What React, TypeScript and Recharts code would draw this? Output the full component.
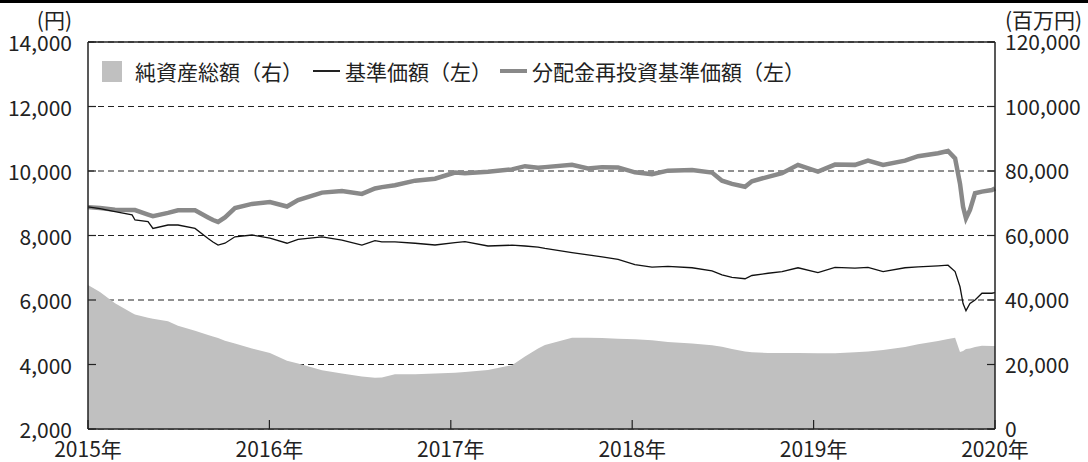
import {
  ComposedChart,
  Area,
  Line,
  XAxis,
  YAxis,
  CartesianGrid,
  ReferenceLine,
  Legend,
} from 'recharts'

const FONT = "'Noto Sans CJK JP', 'Noto Sans', sans-serif"
const INK = '#222'
const ASSET_GRAY = '#c0c0c0'
const REINVEST_GRAY = '#898989'

// decimal years
const dates = [
  2015.0, 2015.066, 2015.149, 2015.243, 2015.259, 2015.331, 2015.358, 2015.441, 2015.496, 2015.59,
  2015.662, 2015.689, 2015.717, 2015.755, 2015.81, 2015.904, 2016.003, 2016.097, 2016.158, 2016.29,
  2016.4, 2016.51, 2016.582, 2016.62, 2016.692, 2016.803, 2016.913, 2017.023, 2017.078, 2017.205,
  2017.337, 2017.409, 2017.481, 2017.519, 2017.668, 2017.756, 2017.834, 2017.922, 2018.015, 2018.109,
  2018.197, 2018.33, 2018.44, 2018.495, 2018.55, 2018.622, 2018.66, 2018.749, 2018.826, 2018.914,
  2019.024, 2019.118, 2019.228, 2019.3, 2019.383, 2019.504, 2019.576, 2019.686, 2019.741, 2019.78,
  2019.807, 2019.824, 2019.84, 2019.862, 2019.89, 2019.928, 2019.983, 2020.0,
]

// 基準価額（円）
const navValues = [
  8890, 8830, 8740, 8640, 8480, 8430, 8220, 8325, 8325, 8220,
  7910, 7800, 7705, 7760, 7960, 8015, 7920, 7760, 7880, 7960,
  7860, 7705, 7840, 7800, 7800, 7760, 7705, 7780, 7810, 7675,
  7700, 7675, 7640, 7600, 7470, 7400, 7340, 7260, 7100, 7020,
  7040, 7000, 6900, 6780, 6700, 6660, 6760, 6830, 6880, 7000,
  6850, 7010, 6990, 7010, 6880, 7000, 7030, 7060, 7080, 6880,
  6410, 5890, 5670, 5890, 6000, 6210, 6210, 6230,
]

// 分配金再投資基準価額（円）
const reinvestedValues = [
  8880, 8850, 8800, 8790, 8790, 8650, 8600, 8700, 8780, 8780,
  8560, 8480, 8420, 8560, 8850, 8980, 9040, 8900, 9100, 9330,
  9380, 9290, 9460, 9500, 9560, 9700, 9760, 9950, 9930, 9980,
  10050, 10150, 10100, 10120, 10190, 10080, 10120, 10110, 9960, 9900,
  10010, 10030, 9950, 9700, 9600, 9510, 9680, 9820, 9930, 10190,
  9980, 10200, 10190, 10320, 10190, 10320, 10460, 10550, 10620, 10390,
  9610, 8890, 8530, 8790, 9310, 9360, 9410, 9460,
]

// 純資産総額（百万円）
const netAssets = [
  44650, 42500, 39000, 36000, 35500, 34500, 34200, 33400, 32000, 30500,
  29140, 28700, 28200, 27400, 26500, 25000, 23600, 21200, 20300, 18200,
  17200, 16300, 15900, 16000, 16950, 16950, 17200, 17450, 17700, 18300,
  19800, 22500, 25000, 26040, 28300, 28300, 28200, 28000, 27800, 27500,
  27000, 26500, 26000, 25500, 24800, 24000, 23800, 23600, 23600, 23600,
  23500, 23500, 23800, 24000, 24500, 25400, 26300, 27300, 27900, 28300,
  23900, 24200, 24800, 25000, 25400, 25800, 25700, 25700,
]

const xTicks = [2015, 2016, 2017, 2018, 2019, 2020]
const leftTicks = [2000, 4000, 6000, 8000, 10000, 12000, 14000]
const rightTicks = [0, 20000, 40000, 60000, 80000, 100000, 120000]

const data = dates.map((t, i) => ({
  t,
  nav: navValues[i],
  reinvested: reinvestedValues[i],
  assets: netAssets[i],
}))

const fmt = (v: number) => v.toLocaleString('en-US')

function LeftTick({ x, y, payload }: any) {
  return (
    <g>
      <line x1={x + 16} x2={x + 24} y1={y} y2={y} stroke={INK} strokeWidth={1.2} />
      <text x={x} y={y + 9} textAnchor="end" fontSize={21} fontFamily={FONT} fill={INK}>
        {fmt(payload.value)}
      </text>
    </g>
  )
}

function RightTick({ x, y, payload }: any) {
  return (
    <g>
      <line x1={x - 10} x2={x - 18} y1={y} y2={y} stroke={INK} strokeWidth={1.2} />
      <text x={x} y={y + 8} textAnchor="start" fontSize={21} fontFamily={FONT} fill={INK}>
        {fmt(payload.value)}
      </text>
    </g>
  )
}

function BottomTick({ x, y, payload }: any) {
  return (
    <g>
      <line x1={x} x2={x} y1={y} y2={y - 9} stroke={INK} strokeWidth={1.2} />
      <text x={x} y={y + 28} textAnchor="middle" fontSize={21} fontFamily={FONT} fill={INK}>
        {payload.value}年
      </text>
    </g>
  )
}

function UnitLabel({ viewBox, text, side }: any) {
  const x = side === 'left' ? viewBox.x + viewBox.width - 16 : viewBox.x + 10
  return (
    <text
      x={x}
      y={viewBox.y - 14}
      textAnchor={side === 'left' ? 'end' : 'start'}
      fontSize={21}
      fontFamily={FONT}
      fill={INK}
    >
      {text}
    </text>
  )
}

function LegendBox() {
  const item = { display: 'flex', alignItems: 'center' } as const
  const label = { fontSize: 21, fontFamily: FONT, color: INK, whiteSpace: 'nowrap' } as const
  return (
    <div style={{ display: 'flex', alignItems: 'center', lineHeight: '24px' }}>
      <div style={item}>
        <span style={{ width: 20, height: 21, background: ASSET_GRAY, marginRight: 13 }} />
        <span style={label}>純資産総額（右）</span>
      </div>
      <div style={{ ...item, marginLeft: 10 }}>
        <span style={{ width: 27, height: 1.5, background: INK, marginRight: 5 }} />
        <span style={label}>基準価額（左）</span>
      </div>
      <div style={{ ...item, marginLeft: 8 }}>
        <span style={{ width: 27, height: 4.5, background: REINVEST_GRAY, marginRight: 5 }} />
        <span style={label}>分配金再投資基準価額（左）</span>
      </div>
    </div>
  )
}

export default function App() {
  return (
    <div style={{ position: 'absolute', left: 0, top: 0, width: 1088, height: 462, background: '#fff' }}>
      <div style={{ position: 'absolute', left: 0, top: 0, width: 1088, height: 3, background: '#000', zIndex: 2 }} />
      <ComposedChart
        width={1088}
        height={462}
        data={data}
        margin={{ top: 42, right: 0, bottom: 0, left: 0 }}
      >
        <CartesianGrid
          yAxisId="left"
          vertical={false}
          stroke={INK}
          strokeDasharray="6 4"
          strokeWidth={1}
        />
        <Area
          yAxisId="right"
          dataKey="assets"
          type="linear"
          stroke="none"
          fill={ASSET_GRAY}
          fillOpacity={1}
          isAnimationActive={false}
        />
        <Line
          yAxisId="left"
          dataKey="reinvested"
          type="linear"
          stroke={REINVEST_GRAY}
          strokeWidth={4.5}
          dot={false}
          isAnimationActive={false}
        />
        <Line
          yAxisId="left"
          dataKey="nav"
          type="linear"
          stroke="#111"
          strokeWidth={1.3}
          dot={false}
          isAnimationActive={false}
        />
        <ReferenceLine yAxisId="left" y={14000} stroke={INK} strokeWidth={1.5} />
        <XAxis
          dataKey="t"
          type="number"
          domain={[2015, 2020]}
          ticks={xTicks}
          height={33}
          tickSize={0}
          tickMargin={0}
          tick={<BottomTick />}
          axisLine={{ stroke: INK, strokeWidth: 1.5 }}
          tickLine={false}
          interval={0}
        />
        <YAxis
          yAxisId="left"
          orientation="left"
          domain={[2000, 14000]}
          ticks={leftTicks}
          width={88}
          tickSize={0}
          tickMargin={16}
          tick={<LeftTick />}
          axisLine={{ stroke: INK, strokeWidth: 1.5 }}
          tickLine={false}
          interval={0}
          label={<UnitLabel text="(円)" side="left" />}
        />
        <YAxis
          yAxisId="right"
          orientation="right"
          domain={[0, 120000]}
          ticks={rightTicks}
          width={93}
          tickSize={0}
          tickMargin={10}
          tick={<RightTick />}
          axisLine={{ stroke: INK, strokeWidth: 1.5 }}
          tickLine={false}
          interval={0}
          label={<UnitLabel text="(百万円)" side="right" />}
        />
        <Legend
          layout="horizontal"
          verticalAlign="middle"
          align="center"
          content={<LegendBox />}
          wrapperStyle={{ top: 59, left: 102, width: 'auto' }}
        />
      </ComposedChart>
    </div>
  )
}
